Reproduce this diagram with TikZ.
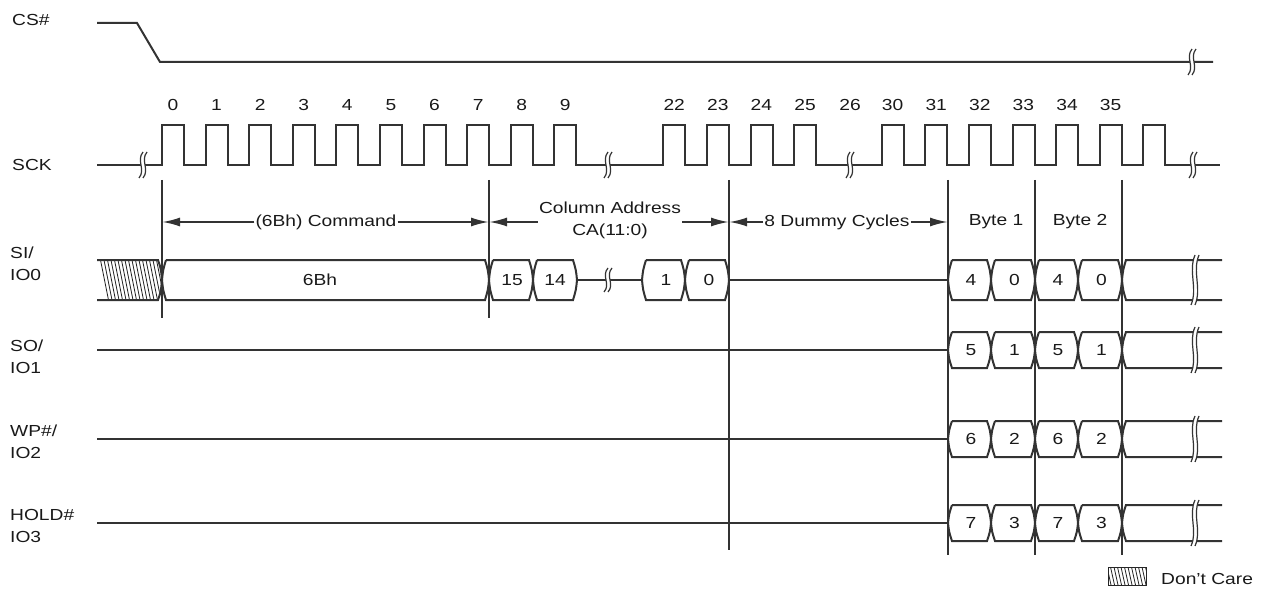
\documentclass[tikz,border=0pt]{standalone}
\usepackage{fontspec}
\setmainfont[FakeStretch=1.2]{Liberation Sans}
\usetikzlibrary{arrows.meta}
\newcommand\busbox[4]{%
  \draw[sig] ({#1+4},#3) -- ({#2-4},#3)
    .. controls ({#2-1},{#3+0.25*(#4-#3)}) .. ({#2},{0.5*(#3+#4)})
    .. controls ({#2-1},{#4-0.25*(#4-#3)}) .. ({#2-4},#4)
    -- ({#1+4},#4)
    .. controls ({#1+1},{#4-0.25*(#4-#3)}) .. ({#1},{0.5*(#3+#4)})
    .. controls ({#1+1},{#3+0.25*(#4-#3)}) .. ({#1+4},#3);}
\newcommand\openbus[3]{% x top bot
  \draw[sig] (1222,#2) -- ({#1+4},#2)
    .. controls ({#1+1},{#2+0.25*(#3-#2)}) .. ({#1},{0.5*(#2+#3)})
    .. controls ({#1+1},{#3-0.25*(#3-#2)}) .. ({#1+4},#3) -- (1222,#3);}
\newcommand\brkmark[3]{%
  \fill[white] ({#1+2},{#2-#3}) .. controls ({#1-5},{#2-#3/3}) and ({#1+5},{#2+#3/3}) .. ({#1-2},{#2+#3})
    -- ({#1+2},{#2+#3}) .. controls ({#1+9},{#2+#3/3}) and ({#1-1},{#2-#3/3}) .. ({#1+6},{#2-#3}) -- cycle;
  \draw[brk] ({#1+2},{#2-#3}) .. controls ({#1-5},{#2-#3/3}) and ({#1+5},{#2+#3/3}) .. ({#1-2},{#2+#3});
  \draw[brk] ({#1+6},{#2-#3}) .. controls ({#1-1},{#2-#3/3}) and ({#1+9},{#2+#3/3}) .. ({#1+2},{#2+#3});}
\begin{document}
\begin{tikzpicture}[x=1pt,y=-1pt,
  sig/.style={line width=2pt,black!80,line join=miter},
  brk/.style={line width=1.2pt,black!80},
  vmark/.style={line width=2pt,black!80},
  hatch/.style={line width=0.8pt,black!85},
  txt/.style={font=\fontsize{16}{22}\selectfont,text=black!90,inner sep=1pt},
  lbl/.style={txt,anchor=west,align=left,inner sep=0pt},
  arr/.style={line width=2pt,black!80,-{Latex[length=18pt,width=9pt]}}]
\useasboundingbox (0,0) rectangle (1264,591);
% labels
\node[lbl] (lcs) at (12,20) {CS\#};
\node[lbl] (lsck) at (12,165) {SCK};
\node[lbl] (lsi) at (10,264) {SI/\\IO0};
\node[lbl] (lso) at (10,357) {SO/\\IO1};
\node[lbl] (lwp) at (10,442) {WP\#/\\IO2};
\node[lbl] (lhold) at (10,526) {HOLD\#\\IO3};
% CS#
\draw[sig] (97,23) -- (137,23) -- (160,62) -- (1213,62);
\brkmark{1190}{62}{13}
% SCK
\draw[sig] (97,165)
  foreach \n in {0,...,9}{ -- ({round(162+\n*43.6)},165) -- ++(0,-40) -- ++(22,0) -- ++(0,40) }
  foreach \n in {0,...,3}{ -- ({round(663.3+\n*43.6)},165) -- ++(0,-40) -- ++(22,0) -- ++(0,40) }
  foreach \n in {0,...,6}{ -- ({round(881.7+\n*43.6)},165) -- ++(0,-40) -- ++(22,0) -- ++(0,40) }
  -- (1220,165);
\brkmark{141}{165}{13}
\brkmark{606}{165}{13}
\brkmark{848}{165}{13}
\brkmark{1191}{165}{13}
\foreach \n in {0,...,9}{\node[txt] (c\n) at ({172.9+\n*43.6},105) {\n};}
\foreach \n/\k in {22/0,23/1,24/2,25/3}{\node[txt] (c\n) at ({674.2+\k*43.6},105) {\n};}
\foreach \n/\k in {30/0,31/1,32/2,33/3,34/4,35/5}{\node[txt] (c\n) at ({892.6+\k*43.6},105) {\n};}
\node[txt] (c26) at (850,105) {26};
% markers
\coordinate (m0) at (162,222);
\coordinate (m1) at (489,222);
\coordinate (m2) at (729,222);
\coordinate (m3) at (948,222);
\coordinate (m4) at (1035,222);
\coordinate (m5) at (1122,222);
\draw[vmark] (162,180) -- (162,318);
\draw[vmark] (489,180) -- (489,318);
\draw[vmark] (729,180) -- (729,550);
\draw[vmark] (948,180) -- (948,555);
\draw[vmark] (1035,180) -- (1035,555);
\draw[vmark] (1122,180) -- (1122,555);
% arrows
\node[txt] (cmd) at (326,222) {(6Bh) Command};
\draw[arr] (cmd.west) -- (m0);
\draw[arr] (cmd.east) -- (m1);
\node[txt,align=center] (ca) at (610,220) {Column Address\\CA(11:0)};
\draw[arr] (ca.west|-m1) -- (m1);
\draw[arr] (ca.east|-m1) -- (m2);
\node[txt] (dum) at (837,222) {8 Dummy Cycles};
\draw[arr] (dum.west) -- (m2);
\draw[arr] (dum.east) -- (m3);
\node[txt] (b1) at (996,222) {Byte 1};
\node[txt] (b2) at (1080,222) {Byte 2};
% SI hatch
\begin{scope}
  \clip (100,260) -- (158,260) -- (162,280) -- (158,300) -- (108,300) -- cycle;
  \foreach \x in {90,93.5,...,166}{\draw[hatch] (\x,260) -- ({\x+8},300);}
\end{scope}
\draw[sig] (97,260) -- (158,260) .. controls (161,269) .. (162,280) .. controls (161,291) .. (158,300) -- (97,300);
% SI boxes
\busbox{162}{489}{260}{300}
\node[txt] (t6bh) at (320,280) {6Bh};
\busbox{489}{533}{260}{300}
\node[txt] (t15) at (512,280) {15};
\busbox{533}{577}{260}{300}
\node[txt] (t14) at (555,280) {14};
\draw[sig] (577,280) -- (642,280);
\brkmark{606}{280}{12}
\busbox{642}{685}{260}{300}
\node[txt] (t1) at (666,280) {1};
\busbox{685}{729}{260}{300}
\node[txt] (t0) at (709,280) {0};
\draw[sig] (729,280) -- (948,280);
% data rows
\foreach \row/\top/\bot/\a/\b in {si/260/300/4/0, so/332/368/5/1, wp/421/457/6/2, ho/505/541/7/3}{
  \pgfmathsetmacro\ymid{0.5*(\top+\bot)}
  \pgfmathsetmacro\hh{0.5*(\bot-\top)+5}
  \busbox{948}{991}{\top}{\bot}
  \busbox{991}{1035}{\top}{\bot}
  \busbox{1035}{1078}{\top}{\bot}
  \busbox{1078}{1122}{\top}{\bot}
  \node[txt] (\row-a1) at (971,\ymid) {\a};
  \node[txt] (\row-b1) at (1014.5,\ymid) {\b};
  \node[txt] (\row-a2) at (1058,\ymid) {\a};
  \node[txt] (\row-b2) at (1101.5,\ymid) {\b};
  \openbus{1122}{\top}{\bot}
  \brkmark{1193}{\ymid}{\hh}
}
\draw[sig] (97,350) -- (948,350);
\draw[sig] (97,439) -- (948,439);
\draw[sig] (97,523) -- (948,523);
% legend
\begin{scope}
  \clip (1108,567) rectangle (1146,585);
  \foreach \x in {1100,1103.5,...,1150}{\draw[hatch] (\x,567) -- ({\x+4},585);}
\end{scope}
\draw[line width=1pt,black!85] (1108,567) rectangle (1146,585);
\node[txt,anchor=west] (dc) at (1160,579) {Don't Care};
\end{tikzpicture}
\end{document}
